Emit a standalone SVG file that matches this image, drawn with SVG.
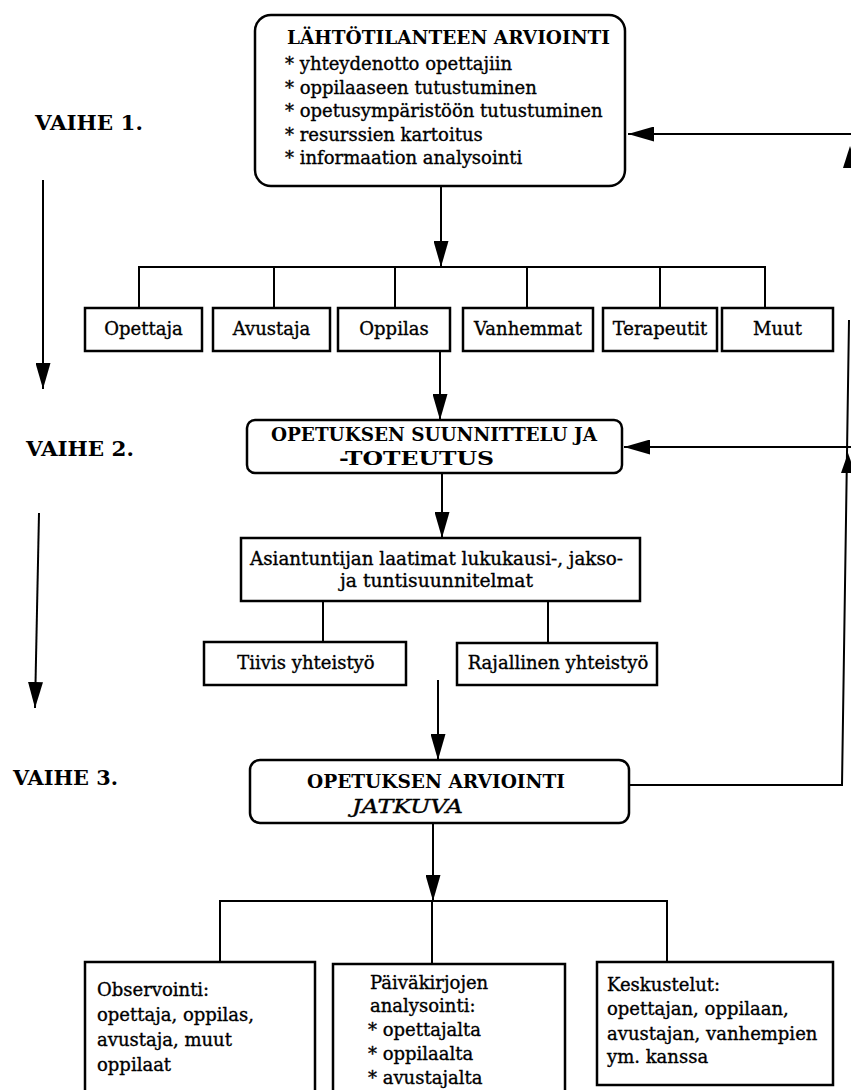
<svg xmlns="http://www.w3.org/2000/svg" width="851" height="1090" viewBox="0 0 851 1090">
<defs>
<style>
.box{fill:#fff;stroke:#000;stroke-width:2.5}
.ln{fill:none;stroke:#000;stroke-width:2}
.t{font-family:"DejaVu Serif","Liberation Serif",serif;font-size:18px;fill:#000;stroke:#000;stroke-width:0.35}
.tb{font-family:"DejaVu Serif","Liberation Serif",serif;font-size:18.5px;font-weight:bold;fill:#000}
.ti{font-family:"DejaVu Serif","Liberation Serif",serif;font-size:18px;font-style:italic;fill:#000;stroke:#000;stroke-width:0.4}
.vh{font-family:"DejaVu Serif","Liberation Serif",serif;font-size:21px;font-weight:bold;fill:#000}
.tk{font-family:"DejaVu Serif","Liberation Serif",serif;font-size:18px;fill:#000;stroke:#000;stroke-width:0.35}
.ah{fill:#000;stroke:none}
</style>
<marker id="arr" markerUnits="userSpaceOnUse" markerWidth="27" markerHeight="15" refX="26" refY="7.5" orient="auto">
<path d="M0,0 L26,7.5 L0,15 z" fill="#000"/>
</marker>
</defs>
<rect width="851" height="1090" fill="#fff"/>

<g id="labels">
<text class="vh" x="35" y="130" textLength="108" lengthAdjust="spacingAndGlyphs">VAIHE 1.</text>
<text class="vh" x="26" y="456" textLength="108" lengthAdjust="spacingAndGlyphs">VAIHE 2.</text>
<text class="vh" x="13" y="785" textLength="105" lengthAdjust="spacingAndGlyphs">VAIHE 3.</text>
</g>

<g id="connectors">
<line class="ln" x1="43" y1="180" x2="43" y2="389" marker-end="url(#arr)"/>
<line class="ln" x1="39" y1="513" x2="35" y2="708" marker-end="url(#arr)"/>
<line class="ln" x1="441" y1="186" x2="441" y2="267" marker-end="url(#arr)"/>
<polyline class="ln" points="139,308 139,267 765,267 765,308"/>
<line class="ln" x1="274" y1="267" x2="274" y2="308"/>
<line class="ln" x1="395" y1="267" x2="395" y2="308"/>
<line class="ln" x1="527" y1="267" x2="527" y2="308"/>
<line class="ln" x1="660" y1="267" x2="660" y2="308"/>
<line class="ln" x1="440" y1="351" x2="440" y2="420" marker-end="url(#arr)"/>
<line class="ln" x1="442" y1="473" x2="442" y2="538" marker-end="url(#arr)"/>
<line class="ln" x1="323" y1="601" x2="323" y2="642"/>
<line class="ln" x1="548" y1="601" x2="548" y2="643"/>
<line class="ln" x1="438" y1="680" x2="438" y2="760" marker-end="url(#arr)"/>
<line class="ln" x1="433" y1="823" x2="433" y2="901" marker-end="url(#arr)"/>
<polyline class="ln" points="220,962 220,901 667,901 667,962"/>
<line class="ln" x1="432" y1="901" x2="432" y2="964"/>
<polyline class="ln" points="629,785 842,785 849,320"/>
<line class="ln" x1="851" y1="134" x2="628" y2="134" marker-end="url(#arr)"/>
<line class="ln" x1="851" y1="447" x2="624" y2="447" marker-end="url(#arr)"/>
<polygon class="ah" points="850,146 843,168 857,168"/>
<polygon class="ah" points="848,453 841,473 855,473"/>
</g>

<g id="n-lahto">
<rect class="box" x="255" y="15" width="370" height="171" rx="16"/>
<text class="tb" x="287" y="44" textLength="323" lengthAdjust="spacingAndGlyphs">LÄHTÖTILANTEEN ARVIOINTI</text>
<text class="tk" x="285" y="70">* yhteydenotto opettajiin</text>
<text class="tk" x="285" y="93.5">* oppilaaseen tutustuminen</text>
<text class="tk" x="285" y="117">* opetusympäristöön tutustuminen</text>
<text class="tk" x="285" y="140.5">* resurssien kartoitus</text>
<text class="tk" x="285" y="164">* informaation analysointi</text>
</g>

<g id="n-opettaja"><rect class="box" x="85" y="308" width="117" height="43"/><text class="t" x="143.5" y="335" text-anchor="middle">Opettaja</text></g>
<g id="n-avustaja"><rect class="box" x="213" y="308" width="117" height="43"/><text class="t" x="271.5" y="335" text-anchor="middle">Avustaja</text></g>
<g id="n-oppilas"><rect class="box" x="338" y="308" width="112" height="43"/><text class="t" x="394" y="335" text-anchor="middle">Oppilas</text></g>
<g id="n-vanhemmat"><rect class="box" x="463" y="308" width="130" height="43"/><text class="t" x="528" y="335" text-anchor="middle">Vanhemmat</text></g>
<g id="n-terapeutit"><rect class="box" x="603" y="308" width="114" height="43"/><text class="t" x="660" y="335" text-anchor="middle">Terapeutit</text></g>
<g id="n-muut"><rect class="box" x="722" y="308" width="111" height="43"/><text class="t" x="777.5" y="335" text-anchor="middle">Muut</text></g>

<g id="n-suunnittelu">
<rect class="box" x="247" y="420" width="375" height="53" rx="8"/>
<text class="tb" x="271" y="441" textLength="326" lengthAdjust="spacingAndGlyphs">OPETUKSEN SUUNNITTELU JA</text>
<text class="tb" x="339" y="465" textLength="155" lengthAdjust="spacingAndGlyphs">-TOTEUTUS</text>
</g>

<g id="n-asiantuntija">
<rect class="box" x="241" y="538" width="399" height="63"/>
<text class="t" x="250" y="565" textLength="373" lengthAdjust="spacingAndGlyphs">Asiantuntijan laatimat lukukausi-, jakso-</text>
<text class="t" x="340" y="587" textLength="193" lengthAdjust="spacingAndGlyphs">ja tuntisuunnitelmat</text>
</g>

<g id="n-tiivis"><rect class="box" x="204" y="642" width="202" height="43"/><text class="t" x="306" y="669" text-anchor="middle">Tiivis yhteistyö</text></g>
<g id="n-rajallinen"><rect class="box" x="457" y="643" width="200" height="42"/><text class="t" x="558" y="669" text-anchor="middle">Rajallinen yhteistyö</text></g>

<g id="n-arviointi">
<rect class="box" x="250" y="760" width="379" height="63" rx="10"/>
<text class="tb" x="307" y="788" textLength="258" lengthAdjust="spacingAndGlyphs">OPETUKSEN ARVIOINTI</text>
<text class="ti" x="352" y="813" textLength="111" lengthAdjust="spacingAndGlyphs">JATKUVA</text>
</g>

<g id="n-observointi">
<rect class="box" x="85" y="962" width="230" height="140"/>
<text class="t" x="97" y="996">Observointi:</text>
<text class="t" x="97" y="1021">opettaja, oppilas,</text>
<text class="t" x="97" y="1046">avustaja, muut</text>
<text class="t" x="97" y="1071">oppilaat</text>
</g>

<g id="n-paivakirjat">
<rect class="box" x="333" y="964" width="232" height="140"/>
<text class="t" x="370" y="989">Päiväkirjojen</text>
<text class="t" x="370" y="1012">analysointi:</text>
<text class="t" x="368" y="1036">* opettajalta</text>
<text class="t" x="368" y="1060">* oppilaalta</text>
<text class="t" x="368" y="1084">* avustajalta</text>
</g>

<g id="n-keskustelut">
<rect class="box" x="597" y="962" width="236" height="123"/>
<text class="t" x="607" y="991">Keskustelut:</text>
<text class="t" x="607" y="1015">opettajan, oppilaan,</text>
<text class="t" x="607" y="1040">avustajan, vanhempien</text>
<text class="t" x="607" y="1063">ym. kanssa</text>
</g>
</svg>
